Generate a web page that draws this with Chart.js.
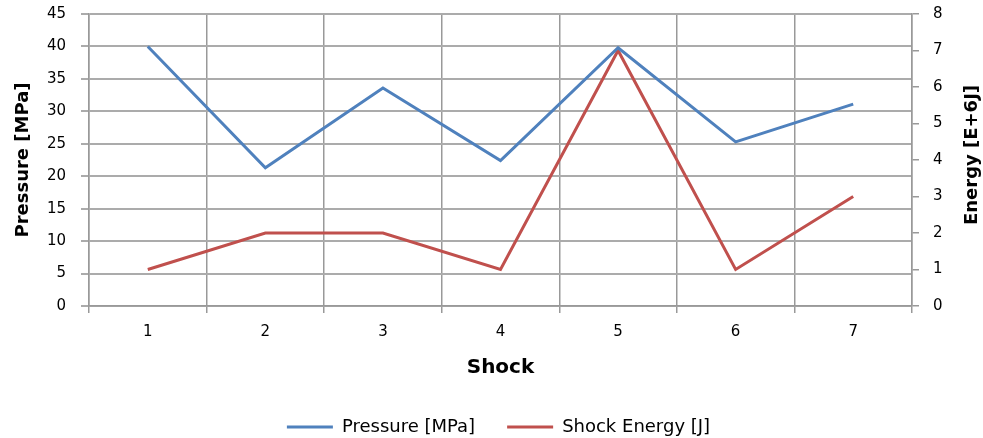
<!DOCTYPE html>
<html>
<head>
<meta charset="utf-8">
<script src="https://cdn.jsdelivr.net/npm/chart.js@4.4.0/dist/chart.umd.min.js"></script>
<style>
  html, body { margin: 0; padding: 0; background: #fff; }
  #wrap { width: 983px; height: 438px; }
</style>
</head>
<body>
<div id="wrap"><canvas id="c" width="983" height="438"></canvas></div>
<script>
// Shock number on the x axis
const shocks = ['1', '2', '3', '4', '5', '6', '7'];
// Peak pressure per shock, MPa
const pressure = [40, 21.3, 33.6, 22.4, 39.8, 25.3, 31.1];
// Shock energy per shock, in units of 1E+6 J
const energy = [1, 2, 2, 1, 7, 1, 3];
// Axis tick values
const pressureTicks = [0, 5, 10, 15, 20, 25, 30, 35, 40, 45];
const energyTicks = [0, 1, 2, 3, 4, 5, 6, 7, 8];

const energyTitle = 'Energy [E+6J]';
const hGridColor = '#ababab';
const vGridColor = '#999999';
const textColor = '#000000';
const fontFamily = "'DejaVu Sans', sans-serif";

Chart.defaults.font.family = fontFamily;

// Right axis title reads bottom-to-top, so it is drawn here.
const rightTitle = {
  id: 'rightTitle',
  afterDraw(chart) {
    const s = chart.scales.y2;
    const ctx = chart.ctx;
    ctx.save();
    ctx.translate(s.right - 11, (chart.chartArea.top + chart.chartArea.bottom) / 2 - 5);
    ctx.rotate(-Math.PI / 2);
    ctx.font = "bold 18px " + fontFamily;
    ctx.fillStyle = textColor;
    ctx.textAlign = 'center';
    ctx.textBaseline = 'middle';
    ctx.fillText(energyTitle, 0, 0);
    ctx.restore();
  }
};

const fixTicks = (values) => (scale) => {
  scale.ticks = values.map(v => ({ value: v }));
};

// Fixed axis width; end labels may overhang the plot edges.
const fitVertical = (width) => (scale) => {
  scale.width = width;
  scale.paddingTop = 0;
  scale.paddingBottom = 0;
};

new Chart(document.getElementById('c'), {
  type: 'line',
  data: {
    labels: shocks,
    datasets: [
      {
        label: 'Pressure [MPa]',
        data: pressure,
        borderColor: '#4F81BD',
        backgroundColor: '#4F81BD',
        borderWidth: 3,
        pointRadius: 0,
        tension: 0,
        yAxisID: 'y'
      },
      {
        label: 'Shock Energy [J]',
        data: energy,
        borderColor: '#C0504D',
        backgroundColor: '#C0504D',
        borderWidth: 3,
        pointRadius: 0,
        tension: 0,
        yAxisID: 'y2'
      }
    ]
  },
  options: {
    responsive: false,
    animation: false,
    devicePixelRatio: 1,
    layout: { padding: { top: 14, left: 14, right: 0, bottom: -8 } },
    plugins: {
      tooltip: { enabled: false },
      legend: {
        position: 'bottom',
        labels: {
          usePointStyle: true,
          pointStyle: 'line',
          pointStyleWidth: 46,
          padding: 32,
          color: textColor,
          font: { size: 18 }
        }
      }
    },
    scales: {
      x: {
        type: 'category',
        offset: true,
        grid: { offset: true, color: vGridColor, lineWidth: 1.5, tickLength: 7 },
        border: { color: vGridColor, width: 1.5 },
        ticks: { color: textColor, font: { size: 15 }, padding: 10 },
        title: {
          display: true, text: 'Shock', color: textColor,
          font: { size: 20, weight: 'bold' }, padding: { top: 4, bottom: 6 }
        },
        afterFit: (s) => { s.height = 80; }
      },
      y: {
        position: 'left',
        min: 0, max: 45,
        afterBuildTicks: fixTicks(pressureTicks),
        grid: { color: hGridColor, lineWidth: 2, tickLength: 8 },
        border: { color: vGridColor, width: 1.5 },
        ticks: { color: textColor, font: { size: 15 }, padding: 15 },
        title: {
          display: true, text: 'Pressure [MPa]', color: textColor,
          font: { size: 18, weight: 'bold' }, padding: { top: -1, bottom: 0 }
        },
        afterFit: fitVertical(75)
      },
      y2: {
        position: 'right',
        min: 0, max: 8,
        afterBuildTicks: fixTicks(energyTicks),
        grid: { drawOnChartArea: false, color: vGridColor, lineWidth: 1.5, tickLength: 7 },
        border: { color: vGridColor, width: 1.5 },
        ticks: { color: textColor, font: { size: 15 }, padding: 14 },
        afterFit: fitVertical(71)
      }
    }
  },
  plugins: [rightTitle]
});
</script>
</body>
</html>
